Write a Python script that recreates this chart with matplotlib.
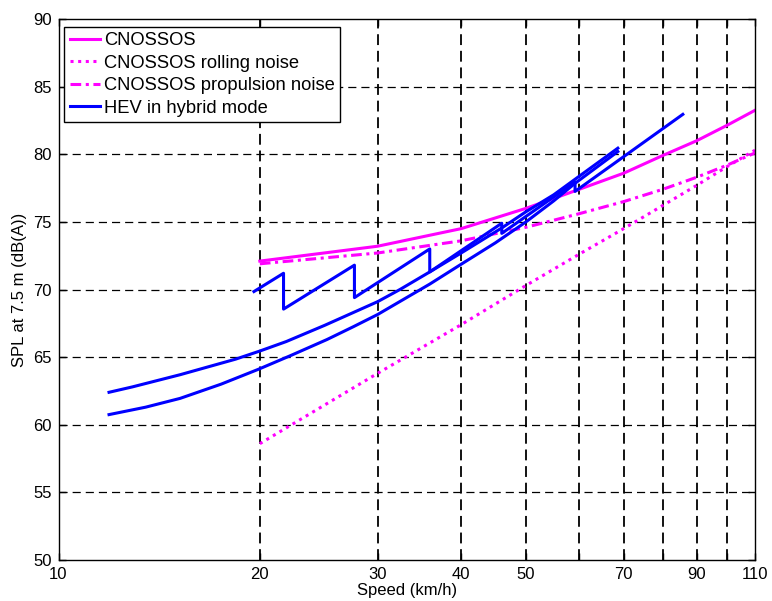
import matplotlib
matplotlib.use('Agg')
import matplotlib.pyplot as plt
from matplotlib.ticker import FixedLocator, FixedFormatter, NullLocator

plt.rcParams['font.family'] = ['Liberation Sans', 'DejaVu Sans']

# ---- data ----
speed_cn = [20, 30, 40, 50, 60, 70, 80, 90, 100, 110]
cnossos = [72.1, 73.2, 74.5, 76.0, 77.4, 78.6, 79.9, 81.0, 82.15, 83.25]
rolling = [58.6, 63.8, 67.4, 70.3, 72.6, 74.5, 76.2, 77.7, 79.1, 80.3]
propulsion = [71.9, 72.7, 73.6, 74.6, 75.6, 76.5, 77.4, 78.3, 79.2, 80.1]

hev_upper_speed = [11.9, 12.9, 15.2, 18.4, 20, 21.9, 25, 30, 32.4, 35.9, 40, 46, 50, 55, 59.2, 68.6]
hev_upper_spl = [62.4, 62.8, 63.7, 64.85, 65.45, 66.15, 67.35, 69.1, 70.0, 71.3, 72.7, 74.55, 75.75, 77.0, 78.15, 80.45]

hev_lower_speed = [11.9, 13.5, 15.2, 17.5, 19.9, 22.2, 25.2, 27.6, 30, 35.9, 39.8, 45, 50, 55, 59.2, 68.6]
hev_lower_spl = [60.75, 61.3, 61.95, 63.0, 64.1, 65.1, 66.3, 67.25, 68.15, 70.4, 71.8, 73.45, 75.0, 76.55, 77.85, 80.2]

hev_gear_speed = [19.6, 21.7, 21.7, 27.7, 27.7, 35.9, 35.9, 46.0, 46.0, 59.2, 59.2, 85.8]
hev_gear_spl = [69.85, 71.2, 68.55, 71.8, 69.4, 73.0, 71.3, 74.9, 74.15, 77.95, 77.25, 82.95]

x_ticks = [10, 20, 30, 40, 50, 60, 70, 80, 90, 100, 110]
x_labels = ['10', '20', '30', '40', '50', '', '70', '', '90', '', '110']
y_ticks = [50, 55, 60, 65, 70, 75, 80, 85, 90]

magenta = '#FF00FF'
blue = '#0000FF'

fig = plt.figure(figsize=(7.72, 6.01), dpi=100)
ax = fig.add_axes([58.5 / 772, 41 / 601, 696.5 / 772, 541 / 601])
ax.set_xscale('log')

lw = 2.2
ax.plot(speed_cn, cnossos, color=magenta, lw=lw, label='CNOSSOS')
ax.plot(speed_cn, rolling, color=magenta, lw=lw, linestyle=(0, (1, 1.5)),
        label='CNOSSOS rolling noise')
ax.plot(speed_cn, propulsion, color=magenta, lw=lw, linestyle=(0, (3.5, 1.5, 1, 1.5)),
        label='CNOSSOS propulsion noise')
ax.plot(hev_upper_speed, hev_upper_spl, color=blue, lw=lw, label='HEV in hybrid mode')
ax.plot(hev_lower_speed, hev_lower_spl, color=blue, lw=lw)
ax.plot(hev_gear_speed, hev_gear_spl, color=blue, lw=lw)

ax.set_xlim(10, 110)
ax.set_ylim(50, 90)
ax.xaxis.set_major_locator(FixedLocator(x_ticks))
ax.xaxis.set_major_formatter(FixedFormatter(x_labels))
ax.xaxis.set_minor_locator(NullLocator())
ax.set_yticks(y_ticks)

for v in x_ticks[1:-1]:
    ax.axvline(v, color='black', lw=1.3, linestyle=(0, (6.0, 3.2)), zorder=0.5)
for v in y_ticks[1:-1]:
    ax.axhline(v, color='black', lw=0.9, linestyle=(0, (6.5, 4.0)), zorder=0.5)

ax.tick_params(axis='both', which='both', direction='in', top=True, right=True,
               length=5, width=1.0, labelsize=12, pad=5)
for s in ax.spines.values():
    s.set_linewidth(1.0)
    s.set_color('black')

ax.set_xlabel('Speed (km/h)', fontsize=12, labelpad=1)
ax.set_ylabel('SPL at 7.5 m (dB(A))', fontsize=12, labelpad=4)

leg = ax.legend(loc='upper left', bbox_to_anchor=((64 - 58.5) / 696.5, 1 - (26.7 - 19) / 541),
                borderaxespad=0, fontsize=13.2, handlelength=1.65, handletextpad=0.22,
                labelspacing=0.3, borderpad=0.3, fancybox=False, framealpha=1,
                edgecolor='black')
leg.get_frame().set_linewidth(1.0)

fig.savefig('out.png', dpi=100)
